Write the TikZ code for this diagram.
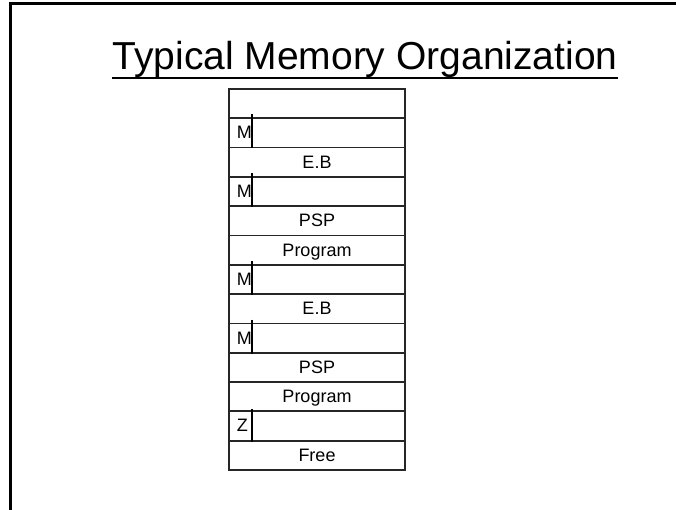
\documentclass[tikz,border=0pt]{standalone}
\usepackage{fontspec}
\setmainfont{Liberation Sans}
\usepackage{tikz}

\begin{document}
\begin{tikzpicture}[x=1pt, y=-1pt,
  frame/.style={line width=3pt, black},
  title/.style={inner sep=0pt, font=\fontsize{39}{44}\selectfont},
  uline/.style={line width=2pt, black},
  row/.style={draw=black!85, line width=1.8pt, minimum width=176pt, minimum height=29.3pt,
    inner sep=0pt, text height=12pt, text depth=0pt, font=\fontsize{18}{20}\selectfont},
  tag/.style={inner sep=0pt, anchor=east, text height=12pt, text depth=0pt, font=\fontsize{18}{20}\selectfont},
  tick/.style={line width=2.6pt, black}]
  \useasboundingbox (0,0) rectangle (676,510);
  \fill[white] (0,0) rectangle (676,510);
  \draw[frame] (680,4) -- (10,4) -- (10,514);
  \node[title, anchor=base] (ttl) at (365,70) {Typical Memory Organization};
  \draw[uline] ([yshift=-8pt]ttl.base west) -- ([yshift=-8pt]ttl.base east);
  \node[row] (r1)  at (317,103.65) {};
  \node[row] (r2)  at (317,132.95) {};
  \node[row] (r3)  at (317,162.25) {E.B};
  \node[row] (r4)  at (317,191.55) {};
  \node[row] (r5)  at (317,220.85) {PSP};
  \node[row] (r6)  at (317,250.15) {Program};
  \node[row] (r7)  at (317,279.45) {};
  \node[row] (r8)  at (317,308.75) {E.B};
  \node[row] (r9)  at (317,338.05) {};
  \node[row] (r10) at (317,367.35) {PSP};
  \node[row] (r11) at (317,396.65) {Program};
  \node[row] (r12) at (317,425.95) {};
  \node[row] (r13) at (317,455.25) {Free};
  \node[tag] (t2)  at (252,132.95) {M};
  \node[tag] (t4)  at (252,191.55) {M};
  \node[tag] (t7)  at (252,279.45) {M};
  \node[tag] (t9)  at (252,338.05) {M};
  \node[tag] (t12) at (248,425.95) {Z};
  \draw[tick] ([xshift=24pt,yshift=3pt]r2.north west)  -- ([xshift=24pt]r2.south west);
  \draw[tick] ([xshift=24pt,yshift=3pt]r4.north west)  -- ([xshift=24pt]r4.south west);
  \draw[tick] ([xshift=24pt,yshift=3pt]r7.north west)  -- ([xshift=24pt]r7.south west);
  \draw[tick] ([xshift=24pt,yshift=3pt]r9.north west)  -- ([xshift=24pt]r9.south west);
  \draw[tick] ([xshift=24pt,yshift=1pt]r12.north west) -- ([xshift=24pt]r12.south west);
\end{tikzpicture}
\end{document}
